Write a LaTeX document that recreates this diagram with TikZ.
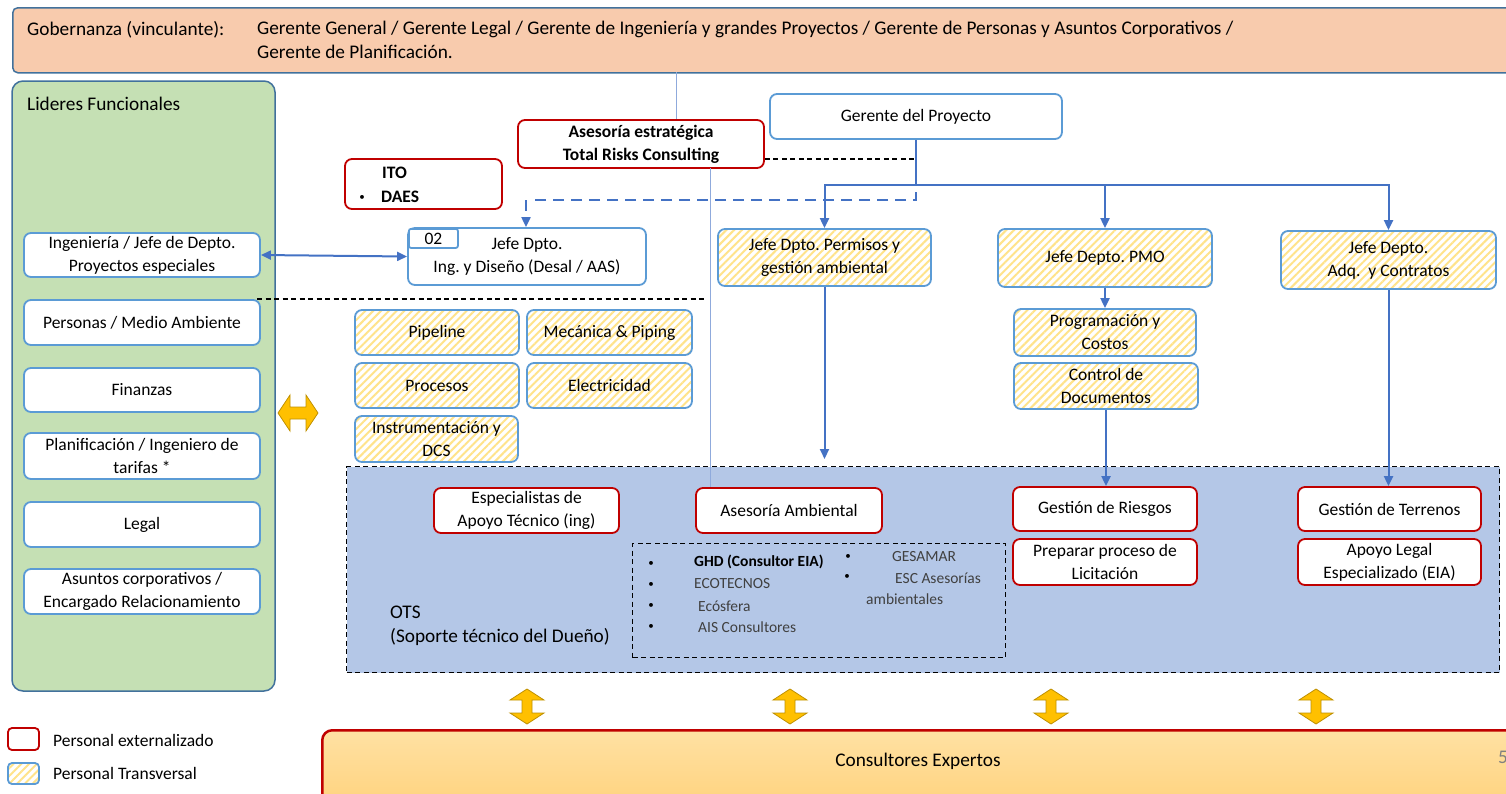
\documentclass[tikz,border=0pt]{standalone}
\usepackage{fontspec}
\setmainfont{Carlito}
\usetikzlibrary{arrows.meta,patterns.meta,calc}
\definecolor{hdrfill}{HTML}{F8CBAD}
\definecolor{hdrline}{HTML}{41719C}
\definecolor{grnfill}{HTML}{C5E0B4}
\definecolor{boxblue}{HTML}{5B9BD5}
\definecolor{boxred}{HTML}{C00000}
\definecolor{arrblue}{HTML}{4472C4}
\definecolor{thinblue}{HTML}{8FAADC}
\definecolor{otsfill}{HTML}{B4C7E7}
\definecolor{stripe}{HTML}{FFE38A}
\definecolor{yarr}{HTML}{FFC000}
\definecolor{yarrline}{HTML}{BF9000}
\definecolor{consTop}{HTML}{FFE1A3}
\definecolor{consBot}{HTML}{FFD27C}
\definecolor{listgray}{HTML}{404040}
\newcommand\fntbody{\fontsize{17.5}{23}\selectfont}
\newcommand\fnthead{\fontsize{19.3}{24}\selectfont}
\newcommand\fntlist{\fontsize{15.5}{20}\selectfont}
\newcommand\fntbul{\fontsize{11}{12}\selectfont}
\newcommand\vdarrow[2]{\filldraw[yarrowstyle] (#1,#2) -- ++(17,11) -- ++(-12,0) -- ++(0,13) -- ++(12,0) -- ++(-17,11) -- ++(-17,-11) -- ++(12,0) -- ++(0,-13) -- ++(-12,0) -- cycle;}
\tikzset{
  base/.style={rounded corners=7pt, line width=1.8pt, align=center, inner sep=0pt, font=\fntbody},
  bluebox/.style={base, draw=boxblue, fill=white},
  redbox/.style={base, draw=boxred, fill=white},
  hatchbox/.style={base, draw=boxblue, preaction={fill=white}, pattern={Lines[angle=45,distance=5.5pt,line width=2pt]}, pattern color=stripe},
  conn/.style={draw=arrblue, line width=2pt},
  conna/.style={conn, -{Triangle[length=10pt,width=9pt]}},
  bluedash/.style={draw=arrblue, line width=2pt, dash pattern=on 11pt off 7pt},
  blkdash/.style={draw=black, line width=1.3pt, dash pattern=on 5pt off 3.5pt},
  thinline/.style={draw=thinblue, line width=1pt},
  yarrowstyle/.style={fill=yarr, draw=yarrline, line width=0.8pt, line join=miter},
  plain/.style={inner sep=0pt, font=\fntbody},
}
\begin{document}
\frenchspacing
\begin{tikzpicture}[x=1pt,y=-1pt]
\useasboundingbox (0,0) rectangle (1506,793);

% header
\node[draw=hdrline, fill=hdrfill, line width=1.5pt, rounded corners=5pt, minimum width=1503pt, minimum height=65pt, anchor=north west, inner sep=0pt] (gob) at (12,7) {};
\node[plain, font=\fnthead, anchor=west] (gobl) at (27,30) {Gobernanza (vinculante):};
\node[plain, font=\fnthead, anchor=north west, align=left] (gobt) at (257,21) {Gerente General / Gerente Legal / Gerente de Ingeniería y grandes Proyectos / Gerente de Personas y Asuntos Corporativos /\\Gerente de Planificación.};

% Lideres funcionales
\node[draw=hdrline, fill=grnfill, line width=1.5pt, rounded corners=11pt, minimum width=263pt, minimum height=610pt, inner sep=0pt] (lid) at (143.5,386) {};
\node[plain, font=\fnthead, anchor=west] (lidt) at (27,104) {Lideres Funcionales};
\node[bluebox, minimum width=236pt, minimum height=44pt] (ing) at (142,255) {Ingeniería / Jefe de Depto.\\Proyectos especiales};
\node[bluebox, minimum width=236pt, minimum height=45pt] (pers) at (142,322.5) {Personas / Medio Ambiente};
\node[bluebox, minimum width=236pt, minimum height=44pt] (fin) at (142,390) {Finanzas};
\node[bluebox, minimum width=236pt, minimum height=46pt] (plan) at (142,456) {Planificación / Ingeniero de\\tarifas *};
\node[bluebox, minimum width=236pt, minimum height=45pt] (legal) at (142,524.5) {Legal};
\node[bluebox, minimum width=236pt, minimum height=45pt] (asun) at (142,591.5) {Asuntos corporativos /\\Encargado Relacionamiento};

% horizontal yellow double arrow
\filldraw[yarrowstyle] (278,413) -- ++(12,-18) -- ++(0,12) -- ++(16,0) -- ++(0,-12) -- ++(12,18) -- ++(-12,18) -- ++(0,-12) -- ++(-16,0) -- ++(0,12) -- cycle;

% top centre
\node[redbox, font=\fntbody\bfseries, minimum width=246pt, minimum height=48pt] (aest) at (641,144) {Asesoría estratégica\\Total Risks Consulting};
\node[redbox, minimum width=157pt, minimum height=50pt] (ito) at (423.5,184) {};
\node[plain, font=\fntbody\bfseries, anchor=west] (itot) at (382,173) {ITO};
\node[plain, font=\fntbul] (itobul) at (362,198) {\textbullet};
\node[plain, font=\fntbody\bfseries, anchor=west] (itob) at (381,197) {DAES};
\node[bluebox, minimum width=292pt, minimum height=45pt] (ger) at (916,116.5) {Gerente del Proyecto};
\node[bluebox, minimum width=238pt, minimum height=57pt] (jing) at (527,256.5) {Jefe Dpto.\\Ing. y Diseño (Desal / AAS)};
\node[draw=boxblue, fill=white, line width=1.8pt, minimum width=49pt, minimum height=19pt, anchor=north west, inner sep=0pt, font=\fntbody, rounded corners=2pt] (n02) at (408,228) {02};

% hatched boxes
\node[hatchbox, minimum width=164pt, minimum height=45pt] (pipe) at (437,332.5) {Pipeline};
\node[hatchbox, minimum width=165pt, minimum height=45pt] (meca) at (609.5,332.5) {Mecánica \& Piping};
\node[hatchbox, minimum width=164pt, minimum height=45pt] (proc) at (437,385.5) {Procesos};
\node[hatchbox, minimum width=165pt, minimum height=45pt] (elec) at (609.5,385.5) {Electricidad};
\node[hatchbox, minimum width=163pt, minimum height=46pt] (inst) at (436.5,439) {Instrumentación y\\DCS};
\node[hatchbox, minimum width=213pt, minimum height=57pt] (perm) at (824.5,257.5) {Jefe Dpto. Permisos y\\gestión ambiental};
\node[hatchbox, minimum width=214pt, minimum height=58pt] (pmo) at (1105,258) {Jefe Depto. PMO};
\node[hatchbox, minimum width=215pt, minimum height=58pt] (adq) at (1388.5,260) {Jefe Depto.\\Adq.\ \ y Contratos};
\node[hatchbox, minimum width=182pt, minimum height=47pt] (prog) at (1105,332.5) {Programación y\\Costos};
\node[hatchbox, minimum width=184pt, minimum height=46pt] (ctrl) at (1106,386) {Control de\\Documentos};

% OTS region
\node[fill=otsfill, blkdash, minimum width=1153pt, minimum height=206pt, anchor=north west, inner sep=0pt] (ots) at (346,466) {};
\node[plain, font=\fnthead, anchor=west, align=left] (otst) at (390,626) {OTS\\(Soporte técnico del Dueño)};
\node[redbox, minimum width=185pt, minimum height=45pt] (esp) at (526.5,510.5) {Especialistas de\\Apoyo Técnico (ing)};
\node[redbox, minimum width=186pt, minimum height=45pt] (aamb) at (789,510.5) {Asesoría Ambiental};
\node[redbox, minimum width=184pt, minimum height=44pt] (ries) at (1105,509) {Gestión de Riesgos};
\node[redbox, minimum width=184pt, minimum height=46pt] (prep) at (1105,562) {Preparar proceso de\\Licitación};
\node[redbox, minimum width=183pt, minimum height=44pt] (terr) at (1389.5,509) {Gestión de Terrenos};
\node[redbox, minimum width=183pt, minimum height=46pt] (apoyo) at (1389.5,562) {Apoyo Legal\\Especializado (EIA)};

% dashed list box
\node[blkdash, minimum width=373pt, minimum height=114pt, anchor=north west, inner sep=0pt] (lst) at (632,543) {};
\node[plain, font=\fntbul] (b1) at (651,564) {\textbullet};
\node[plain, font=\fntbul] (b2) at (651,585) {\textbullet};
\node[plain, font=\fntbul] (b3) at (651,606) {\textbullet};
\node[plain, font=\fntbul] (b4) at (651,627) {\textbullet};
\node[plain, font=\fntlist\bfseries, anchor=west] (l1) at (694,562) {GHD (Consultor EIA)};
\node[plain, font=\fntlist, text=listgray, anchor=west] (l2) at (694,584) {ECOTECNOS};
\node[plain, font=\fntlist, text=listgray, anchor=west] (l3) at (698,606) {Ecósfera};
\node[plain, font=\fntlist, text=listgray, anchor=west] (l4) at (698,627) {AIS Consultores};
\node[plain, font=\fntbul] (b5) at (848,557) {\textbullet};
\node[plain, font=\fntbul] (b6) at (847,577) {\textbullet};
\node[plain, font=\fntlist, text=listgray, anchor=west] (l5) at (892,557) {GESAMAR};
\node[plain, font=\fntlist, text=listgray, anchor=west] (l6) at (895,578) {ESC Asesorías};
\node[plain, font=\fntlist, text=listgray, anchor=west] (l7) at (866,599) {ambientales};

% connectors
\coordinate (hub) at (916,185);
\draw[conn] (ger.south) -- (hub);
\draw[conna] (hub) -| (perm.north);
\draw[conna] (hub) -| (pmo.north);
\draw[conna] (hub) -| (adq.north);
\coordinate (permend) at (824.5,459);
\draw[conna] (perm.south) -- (permend);
\draw[conna] (pmo.south) -- (prog.north);
\draw[conna] (ctrl.south) -- (ries.north -| ctrl.south);
\draw[conna] (adq.south) -- (terr.north -| adq.south);
\draw[conn, {Triangle[length=10pt,width=9pt]}-{Triangle[length=10pt,width=9pt]}] (ing.east) -- (jing.west);
\coordinate (dstart) at (916,192);
\draw[bluedash] (dstart) -- (916,200) -- (535,200);
\draw[conn, dash pattern=on 11pt off 7pt, -{Triangle[length=10pt,width=9pt]}] (526,200) -- (jing.north -| 526,0);
\coordinate (bd1) at ($(aest.south east)+(0,-10)$);
\draw[blkdash] (bd1) -- (bd1 -| ger.south);
\coordinate (sepL) at (257,299);
\coordinate (sepR) at (706,299);
\draw[blkdash] (sepL) -- (sepR);
\coordinate (t1) at (676,72);
\draw[thinline] (t1) -- (t1 |- aest.north);
\coordinate (t2) at (710,168);
\draw[thinline] (t2) -- (t2 |- aamb.north);

% vertical yellow double arrows
\vdarrow{527}{689}
\vdarrow{790}{689}
\vdarrow{1051}{689}
\vdarrow{1316}{689}

% consultores expertos
\node[draw=boxred, line width=2.5pt, rounded corners=10pt, top color=consTop, bottom color=consBot, minimum width=1200pt, minimum height=80pt, anchor=north west, inner sep=0pt] (cons) at (321,729) {};
\node[plain, font=\fnthead] (const) at (918,761) {Consultores Expertos};
\node[plain, font=\fnthead, text=gray, anchor=west] (pg) at (1498,757) {5};

% legend
\node[draw=boxred, fill=white, line width=1.8pt, rounded corners=4pt, minimum width=31pt, minimum height=22pt, inner sep=0pt] (leg1) at (23.5,739) {};
\node[plain, anchor=west] (leg1t) at (53,740) {Personal externalizado};
\node[hatchbox, rounded corners=4pt, minimum width=31pt, minimum height=21pt] (leg2) at (23.5,773.5) {};
\node[plain, anchor=west] (leg2t) at (53,773) {Personal Transversal};
\end{tikzpicture}
\end{document}
